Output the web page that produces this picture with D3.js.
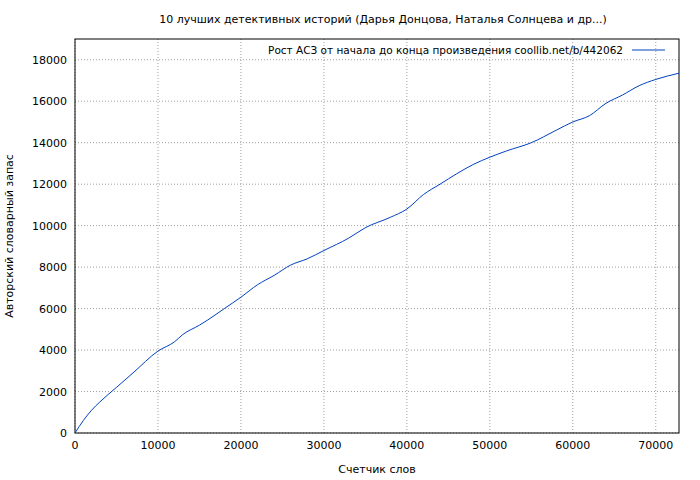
<!DOCTYPE html>
<html><head><meta charset="utf-8">
<script src="https://cdn.jsdelivr.net/npm/d3@7"></script>
<style>body{margin:0;background:#fff}text{font-family:"DejaVu Sans",sans-serif;font-size:11px;fill:#000}</style>
</head><body><svg id="c" width="700" height="480"></svg>
<script>
const words=[0,1000,2000,3000,5000,7000,10000,12000,13000,15000,16000,18000,20000,22000,24000,26000,28000,30000,33000,35000,38000,40000,42000,44000,46000,48000,50000,52000,55000,58000,60000,62000,64000,66000,68000,70000,72800];
const vocab=[0,600,1100,1500,2200,2900,3950,4400,4750,5200,5450,6000,6550,7150,7600,8100,8400,8800,9400,9900,10400,10800,11500,12000,12500,12950,13300,13600,14000,14600,15000,15300,15900,16300,16750,17050,17350];
const xTicks=[0,10000,20000,30000,40000,50000,60000,70000];
const yTicks=[0,2000,4000,6000,8000,10000,12000,14000,16000,18000];
const svg=d3.select("#c");
const L=75,R=679,T=39,B=433;
const x=d3.scaleLinear().domain([0,72800]).range([L,R]);
const y=d3.scaleLinear().domain([0,19000]).range([B,T]);
const g=svg.append("g");
xTicks.forEach(t=>{g.append("line").attr("x1",x(t)).attr("x2",x(t)).attr("y1",B).attr("y2",T).attr("stroke","#a0a0a0").attr("stroke-dasharray","1,2");
 g.append("text").attr("x",x(t)).attr("y",B+16).attr("text-anchor","middle").text(t);});
yTicks.forEach(t=>{g.append("line").attr("x1",L).attr("x2",R).attr("y1",y(t)).attr("y2",y(t)).attr("stroke","#a0a0a0").attr("stroke-dasharray","1,2");
 g.append("text").attr("x",L-8).attr("y",y(t)+4).attr("text-anchor","end").text(t);});
g.append("rect").attr("x",L).attr("y",T).attr("width",R-L).attr("height",B-T).attr("fill","none").attr("stroke","#000");
const line=d3.line().x((d,i)=>x(words[i])).y(d=>y(d)).curve(d3.curveMonotoneX);
g.append("path").datum(vocab).attr("d",line).attr("fill","none").attr("stroke","#0040c0").attr("stroke-width",1);
svg.append("text").attr("x",383).attr("y",23).attr("text-anchor","middle").text("10 лучших детективных историй (Дарья Донцова, Наталья Солнцева и др...)");
svg.append("text").attr("x",377).attr("y",473).attr("text-anchor","middle").text("Счетчик слов");
svg.append("text").attr("transform","translate(13,236) rotate(-90)").attr("text-anchor","middle").text("Авторский словарный запас");
svg.append("text").attr("x",623).attr("y",54).attr("text-anchor","end").style("font-size","10.5px").text("Рост АСЗ от начала до конца произведения  coollib.net/b/442062");
svg.append("line").attr("x1",632).attr("x2",665).attr("y1",50).attr("y2",50).attr("stroke","#0040c0");
</script></body></html>
